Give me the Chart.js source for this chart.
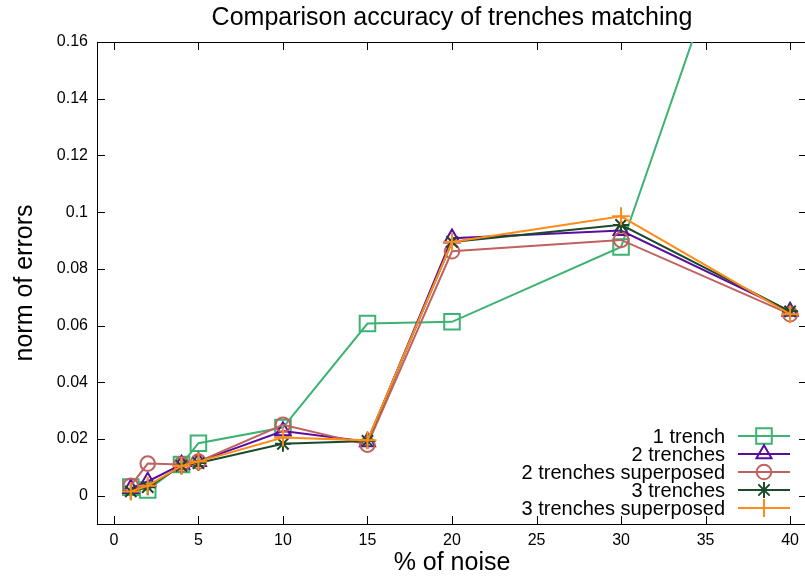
<!DOCTYPE html>
<html>
<head>
<meta charset="utf-8">
<script src="https://cdn.jsdelivr.net/npm/chart.js@4/dist/chart.umd.min.js"></script>
<style>
  html, body { margin: 0; padding: 0; background: #fff; overflow: hidden; }
  #wrap { width: 820px; height: 578px; }
</style>
</head>
<body>
<div id="wrap"><canvas id="chart"></canvas></div>
<script>
const noise = [1, 2, 4, 5, 10, 15, 20, 30, 40];

const oneTrench = [0.003, 0.002, 0.011, 0.0185, 0.024, 0.0607, 0.0613, 0.0877, 0.26];
const twoTrenches = [0.0025, 0.005, 0.011, 0.012, 0.0228, 0.019, 0.0908, 0.0935, 0.065];
const twoSuperposed = [0.0035, 0.0113, 0.011, 0.012, 0.025, 0.018, 0.0862, 0.0902, 0.064];
const threeTrenches = [0.0015, 0.003, 0.0105, 0.0115, 0.0183, 0.0193, 0.0895, 0.0955, 0.065];
const threeSuperposed = [0.0015, 0.0035, 0.0105, 0.012, 0.0205, 0.0195, 0.0895, 0.0985, 0.064];

const seriesNames = ["1 trench", "2 trenches", "2 trenches superposed", "3 trenches", "3 trenches superposed"];
const xTicks = [0, 5, 10, 15, 20, 25, 30, 35, 40];
const yTicks = [0, 0.02, 0.04, 0.06, 0.08, 0.1, 0.12, 0.14, 0.16];

const FONT = "'Liberation Sans', Arial, sans-serif";

function series(values) {
  return values.map((v, i) => ({ x: noise[i], y: v }));
}

const styles = [
  { color: "#3cb371", point: "rect", r: 11 },
  { color: "#5a0c9e", point: "triangle", r: 8.7 },
  { color: "#c0605f", point: "circle", r: 7.3 },
  { color: "#1a4a2a", point: "star", r: 8 },
  { color: "#ff8c1a", point: "cross", r: 9 }
];

const allValues = [oneTrench, twoTrenches, twoSuperposed, threeTrenches, threeSuperposed];

const datasets = allValues.map((vals, i) => ({
  label: seriesNames[i],
  data: series(vals),
  borderColor: styles[i].color,
  backgroundColor: "rgba(0,0,0,0)",
  borderWidth: 2,
  pointStyle: styles[i].point,
  pointRadius: styles[i].r,
  pointBorderWidth: 2,
  pointBorderColor: styles[i].color,
  pointBackgroundColor: "rgba(0,0,0,0)",
  tension: 0,
  order: 5 - i
}));

// frame + inward ticks, gnuplot style
const frame = {
  id: "frame",
  beforeDatasetsDraw(chart) {
    const { ctx, chartArea: a, scales } = chart;
    ctx.save();
    ctx.strokeStyle = "#000";
    ctx.lineWidth = 1;
    ctx.strokeRect(a.left + 0.5, a.top + 0.5, a.right - a.left, a.bottom - a.top);
    ctx.beginPath();
    xTicks.forEach(v => {
      const px = Math.round(scales.x.getPixelForValue(v)) + 0.5;
      ctx.moveTo(px, a.bottom); ctx.lineTo(px, a.bottom - 8);
      ctx.moveTo(px, a.top); ctx.lineTo(px, a.top + 8);
    });
    yTicks.forEach(v => {
      const py = Math.round(scales.y.getPixelForValue(v)) + 0.5;
      ctx.moveTo(a.left, py); ctx.lineTo(a.left + 8, py);
      ctx.moveTo(a.right, py); ctx.lineTo(a.right - 8, py);
    });
    ctx.stroke();
    ctx.restore();
  }
};

// key in the bottom right corner: text, then line with marker
const key = {
  id: "key",
  afterDraw(chart) {
    const { ctx } = chart;
    ctx.save();
    ctx.font = "20px " + FONT;
    ctx.textAlign = "right";
    ctx.textBaseline = "middle";
    chart.data.datasets.forEach((ds, i) => {
      const y = 436 + i * 18;
      ctx.fillStyle = "#000";
      ctx.fillText(ds.label, 725, y + 1);
      ctx.strokeStyle = ds.borderColor;
      ctx.lineWidth = 2;
      ctx.beginPath();
      ctx.moveTo(738, y); ctx.lineTo(790, y);
      ctx.stroke();
      ctx.fillStyle = "rgba(0,0,0,0)";
      Chart.helpers.drawPoint(ctx, {
        pointStyle: ds.pointStyle, radius: ds.pointRadius, borderWidth: 2, rotation: 0
      }, 764, y);
    });
    ctx.restore();
  }
};

new Chart(document.getElementById("chart").getContext("2d"), {
  type: "line",
  data: { datasets },
  options: {
    responsive: true,
    maintainAspectRatio: false,
    animation: false,
    layout: { padding: { left: 0, right: 10, top: 0, bottom: 0 } },
    plugins: {
      legend: { display: false },
      tooltip: { enabled: false },
      title: {
        display: true,
        fullSize: false,
        text: "Comparison accuracy of trenches matching",
        color: "#000",
        font: { family: FONT, size: 25, weight: "normal" },
        padding: { top: 3, bottom: 9 }
      }
    },
    scales: {
      x: {
        type: "linear",
        min: -1,
        max: 41,
        afterBuildTicks: s => { s.ticks = xTicks.map(v => ({ value: v })); },
        afterFit: s => { s.height = 54; },
        grid: { display: false, drawTicks: false },
        border: { display: false },
        ticks: { color: "#000", padding: 7, font: { family: FONT, size: 16 }, maxRotation: 0 },
        title: {
          display: true, text: "% of noise", color: "#000",
          font: { family: FONT, size: 25 }, padding: { top: 0, bottom: 0 }
        }
      },
      y: {
        type: "linear",
        min: -0.01,
        max: 0.16,
        afterBuildTicks: s => { s.ticks = yTicks.map(v => ({ value: v })); },
        afterFit: s => { s.width = 97; },
        grid: { display: false, drawTicks: false },
        border: { display: false },
        ticks: {
          color: "#000", padding: 9, font: { family: FONT, size: 16 },
          callback: v => String(v)
        },
        title: {
          display: true, text: "norm of errors", color: "#000",
          font: { family: FONT, size: 25 }, padding: { top: 10, bottom: 0 }
        }
      }
    }
  },
  plugins: [frame, key]
});
</script>
</body>
</html>
